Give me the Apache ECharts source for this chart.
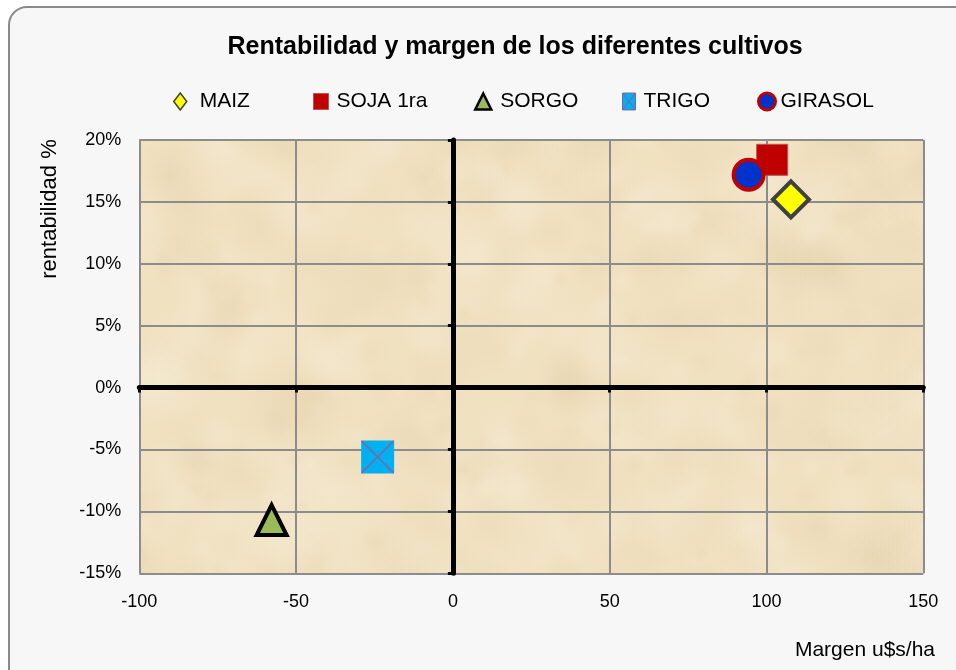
<!DOCTYPE html>
<html>
<head>
<meta charset="utf-8">
<script src="https://cdn.jsdelivr.net/npm/echarts@6/dist/echarts.min.js"></script>
<style>html,body{margin:0;padding:0;background:#fff}#c{width:956px;height:670px}</style>
</head>
<body>
<div id="c"></div>
<script>
// ---- data ----
const categories = ['MAIZ', 'SOJA 1ra', 'SORGO', 'TRIGO', 'GIRASOL'];
const margen = [107.8, 101.8, -57.8, -24.0, 94.3];        // u$s/ha
const rentabilidad = [15.2, 18.4, -10.7, -5.6, 17.2];     // %
const xTicks = { min: -100, max: 150, step: 50 };
const yTicks = { min: -15, max: 20, step: 5 };

// ---- decorative parchment texture (not data) ----
function makeTexture(w, h) {
  const cv = document.createElement('canvas');
  cv.width = w; cv.height = h;
  const ctx = cv.getContext('2d');
  ctx.fillStyle = '#f0e1c1';
  ctx.fillRect(0, 0, w, h);
  let s = 12345;
  const rnd = () => { s = (s * 1103515245 + 12345) % 2147483648; return s / 2147483648; };
  for (let i = 0; i < 900; i++) {
    const x = rnd() * w, y = rnd() * h, r = 8 + rnd() * 40;
    const light = rnd() > 0.45;
    const g = ctx.createRadialGradient(x, y, 0, x, y, r);
    const c = light ? '248,238,216' : '226,206,166';
    g.addColorStop(0, 'rgba(' + c + ',' + (0.12 + rnd() * 0.16) + ')');
    g.addColorStop(1, 'rgba(' + c + ',0)');
    ctx.fillStyle = g;
    ctx.beginPath(); ctx.arc(x, y, r, 0, Math.PI * 2); ctx.fill();
  }
  return cv;
}
const texture = makeTexture(956, 670);

const font = '"Liberation Sans", Arial, sans-serif';
const styles = [
  { symbol: 'diamond', size: 36, itemStyle: { color: '#ffff00', borderColor: '#404040', borderWidth: 4, opacity: 1 } },
  { symbol: 'rect', size: 31, itemStyle: { color: '#c00000', borderColor: '#c0504d', borderWidth: 1, opacity: 1 } },
  { symbol: 'triangle', size: 30, itemStyle: { color: '#9bbb59', borderColor: '#000000', borderWidth: 4, opacity: 1 } },
  { symbol: 'rect', size: 33, itemStyle: { color: '#00b0f0', borderWidth: 0, opacity: 1 } },
  { symbol: 'circle', size: 30, itemStyle: { color: '#0033cc', borderColor: '#c00000', borderWidth: 4, opacity: 1 } }
];

const series = categories.map((name, i) => ({
  type: 'scatter', name: name, xAxisIndex: 0, yAxisIndex: 0,
  symbol: styles[i].symbol, symbolSize: styles[i].size,
  itemStyle: styles[i].itemStyle,
  data: [[margen[i], rentabilidad[i]]],
  z: 3 + i
}));
// X overlay for TRIGO marker
const ti = categories.indexOf('TRIGO');
series.push({
  type: 'scatter', name: 'TRIGO', xAxisIndex: 0, yAxisIndex: 0,
  symbol: 'path://M0,0L10,10M10,0L0,10', symbolSize: 32,
  itemStyle: { color: 'transparent', borderColor: '#8064a2', borderWidth: 1.5, opacity: 1 },
  data: [[margen[ti], rentabilidad[ti]]], z: 8
});

const legendPos = [
  { left: 173, pad: 8, icon: 'diamond', w: 13, h: 17, st: { borderColor: '#404040', borderWidth: 1.5, opacity: 1 } },
  { left: 313, pad: 3, icon: 'rect', w: 15, h: 16, st: { borderWidth: 1, opacity: 1 } },
  { left: 474, pad: 4, icon: 'triangle', w: 16, h: 16, st: { borderWidth: 2.5, opacity: 1 } },
  { left: 622, pad: 3, icon: 'path://M0,0H10V13H0Z M0,0L10,13M10,0L0,13', w: 13, h: 17, st: { color: '#00b0f0', borderColor: '#8064a2', borderWidth: 1, opacity: 1 } },
  { left: 757, pad: 0, icon: 'circle', w: 17, h: 17, st: { borderWidth: 3, opacity: 1 } }
];
const legends = categories.map((name, i) => ({
  show: true, left: legendPos[i].left, top: 91, padding: 0,
  itemWidth: legendPos[i].w, itemHeight: legendPos[i].h,
  selectedMode: false,
  data: [{ name: name, icon: legendPos[i].icon, itemStyle: legendPos[i].st }],
  textStyle: { fontFamily: font, fontSize: 21, color: '#000', padding: [0, 0, 0, legendPos[i].pad] }
}));

const gridLine = { show: true, lineStyle: { color: '#8c8c8c', width: 2 } };

const option = {
  backgroundColor: '#ffffff',
  animation: false,
  title: {
    text: 'Rentabilidad y margen de los diferentes cultivos',
    left: 515, top: 35, padding: 0, textAlign: 'center',
    textStyle: { fontFamily: font, fontWeight: 'bold', fontSize: 25, color: '#000' }
  },
  legend: legends,
  grid: {
    left: 139.3, top: 140, right: 32.7, bottom: 96.7,
    show: true, borderWidth: 0,
    backgroundColor: { image: texture, repeat: 'no-repeat' }
  },
  xAxis: [
    {
      type: 'value', min: xTicks.min, max: xTicks.max, interval: xTicks.step,
      position: 'bottom',
      axisLine: { show: false, onZero: false },
      axisTick: { show: false },
      axisLabel: { fontFamily: font, fontSize: 18, color: '#000', margin: 20 },
      splitLine: gridLine
    },
    {
      type: 'value', min: xTicks.min, max: xTicks.max, interval: xTicks.step,
      position: 'bottom',
      axisLine: { show: true, onZero: true, onZeroAxisIndex: 0, lineStyle: { color: '#000', width: 5 } },
      axisTick: { show: true, length: 5, lineStyle: { color: '#000', width: 3 } },
      axisLabel: { show: false },
      splitLine: { show: false }
    }
  ],
  yAxis: [
    {
      type: 'value', min: yTicks.min, max: yTicks.max, interval: yTicks.step,
      position: 'left',
      axisLine: { show: false, onZero: false },
      axisTick: { show: false },
      axisLabel: { fontFamily: font, fontSize: 18, color: '#000', margin: 18, formatter: v => v + '%' },
      splitLine: gridLine
    },
    {
      type: 'value', min: yTicks.min, max: yTicks.max, interval: yTicks.step,
      position: 'left',
      axisLine: { show: true, onZero: true, onZeroAxisIndex: 0, lineStyle: { color: '#000', width: 5 } },
      axisTick: { show: true, length: 5, lineStyle: { color: '#000', width: 3 } },
      axisLabel: { show: false },
      splitLine: { show: false }
    }
  ],
  graphic: [
    {
      type: 'rect', z: -10, silent: true,
      shape: { x: 9, y: 7, width: 970, height: 690, r: 18 },
      style: { fill: '#f7f7f7', stroke: '#8a8a8a', lineWidth: 2 }
    },
    {
      type: 'text', x: 50, y: 209, rotation: Math.PI / 2, silent: true,
      style: { text: 'rentabilidad %', fontFamily: font, fontSize: 22, fill: '#000', align: 'center', verticalAlign: 'middle' }
    },
    {
      type: 'text', x: 935, y: 650, silent: true,
      style: { text: 'Margen u$s/ha', fontFamily: font, fontSize: 21, fill: '#000', align: 'right', verticalAlign: 'middle' }
    }
  ],
  series: series
};

const chart = echarts.init(document.getElementById('c'), null, { renderer: 'canvas' });
chart.setOption(option);
</script>
</body>
</html>
